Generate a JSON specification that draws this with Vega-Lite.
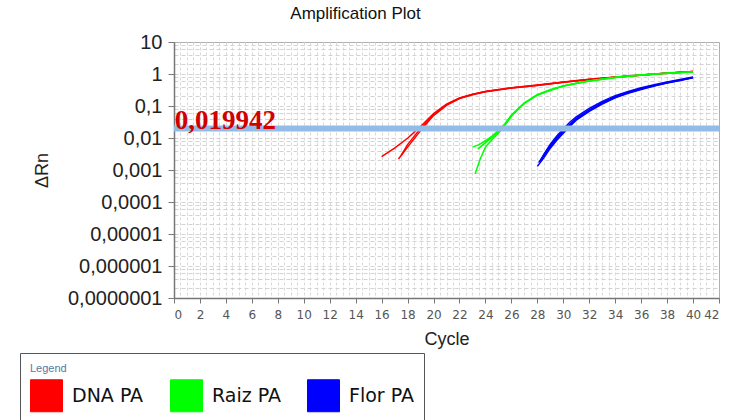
{
  "$schema": "https://vega.github.io/schema/vega-lite/v6.json",
  "autosize": "none",
  "width": 545,
  "height": 256,
  "padding": {"left": 174, "top": 42, "right": 11, "bottom": 122},
  "background": "white",
  "config": {
    "font": "Liberation Sans",
    "view": {"stroke": "#b0b0b0", "strokeWidth": 1}
  },
  "title": {
    "text": "Amplification Plot",
    "fontSize": 17,
    "fontWeight": "normal",
    "font": "Liberation Sans",
    "color": "#111",
    "anchor": "middle",
    "dx": -91,
    "offset": 9
  },
  "datasets": {
    "curves": [
      {"series": "DNA PA", "well": "r1", "cycle": 16.0, "rn": 0.0026},
      {"series": "DNA PA", "well": "r1", "cycle": 17.0, "rn": 0.0048},
      {"series": "DNA PA", "well": "r1", "cycle": 18.0, "rn": 0.0098},
      {"series": "DNA PA", "well": "r1", "cycle": 19.0, "rn": 0.023},
      {"series": "DNA PA", "well": "r1", "cycle": 20.0, "rn": 0.058},
      {"series": "DNA PA", "well": "r1", "cycle": 21.0, "rn": 0.115},
      {"series": "DNA PA", "well": "r1", "cycle": 22.0, "rn": 0.18},
      {"series": "DNA PA", "well": "r1", "cycle": 23.0, "rn": 0.235},
      {"series": "DNA PA", "well": "r1", "cycle": 24.0, "rn": 0.285},
      {"series": "DNA PA", "well": "r1", "cycle": 26.0, "rn": 0.37},
      {"series": "DNA PA", "well": "r1", "cycle": 28.0, "rn": 0.45},
      {"series": "DNA PA", "well": "r1", "cycle": 30.0, "rn": 0.56},
      {"series": "DNA PA", "well": "r1", "cycle": 32.0, "rn": 0.68},
      {"series": "DNA PA", "well": "r1", "cycle": 34.0, "rn": 0.8},
      {"series": "DNA PA", "well": "r1", "cycle": 36.0, "rn": 0.93},
      {"series": "DNA PA", "well": "r1", "cycle": 38.0, "rn": 1.07},
      {"series": "DNA PA", "well": "r1", "cycle": 40.0, "rn": 1.2},
      {"series": "DNA PA", "well": "r2", "cycle": 17.3, "rn": 0.0022},
      {"series": "DNA PA", "well": "r2", "cycle": 18.0, "rn": 0.0052},
      {"series": "DNA PA", "well": "r2", "cycle": 19.0, "rn": 0.017},
      {"series": "DNA PA", "well": "r2", "cycle": 20.0, "rn": 0.05},
      {"series": "DNA PA", "well": "r2", "cycle": 21.0, "rn": 0.105},
      {"series": "DNA PA", "well": "r2", "cycle": 22.0, "rn": 0.17},
      {"series": "DNA PA", "well": "r2", "cycle": 23.0, "rn": 0.225},
      {"series": "DNA PA", "well": "r2", "cycle": 24.0, "rn": 0.28},
      {"series": "DNA PA", "well": "r2", "cycle": 26.0, "rn": 0.365},
      {"series": "DNA PA", "well": "r2", "cycle": 28.0, "rn": 0.44},
      {"series": "DNA PA", "well": "r2", "cycle": 30.0, "rn": 0.55},
      {"series": "DNA PA", "well": "r2", "cycle": 32.0, "rn": 0.67},
      {"series": "DNA PA", "well": "r2", "cycle": 34.0, "rn": 0.79},
      {"series": "DNA PA", "well": "r2", "cycle": 36.0, "rn": 0.92},
      {"series": "DNA PA", "well": "r2", "cycle": 38.0, "rn": 1.06},
      {"series": "DNA PA", "well": "r2", "cycle": 40.0, "rn": 1.19},
      {"series": "DNA PA", "well": "r3", "cycle": 17.5, "rn": 0.0028},
      {"series": "DNA PA", "well": "r3", "cycle": 18.0, "rn": 0.0062},
      {"series": "DNA PA", "well": "r3", "cycle": 19.0, "rn": 0.02},
      {"series": "DNA PA", "well": "r3", "cycle": 20.0, "rn": 0.054},
      {"series": "DNA PA", "well": "r3", "cycle": 21.0, "rn": 0.11},
      {"series": "DNA PA", "well": "r3", "cycle": 22.0, "rn": 0.175},
      {"series": "DNA PA", "well": "r3", "cycle": 23.0, "rn": 0.23},
      {"series": "DNA PA", "well": "r3", "cycle": 24.0, "rn": 0.283},
      {"series": "DNA PA", "well": "r3", "cycle": 26.0, "rn": 0.368},
      {"series": "DNA PA", "well": "r3", "cycle": 28.0, "rn": 0.445},
      {"series": "DNA PA", "well": "r3", "cycle": 30.0, "rn": 0.555},
      {"series": "DNA PA", "well": "r3", "cycle": 32.0, "rn": 0.675},
      {"series": "DNA PA", "well": "r3", "cycle": 34.0, "rn": 0.795},
      {"series": "DNA PA", "well": "r3", "cycle": 36.0, "rn": 0.925},
      {"series": "DNA PA", "well": "r3", "cycle": 38.0, "rn": 1.065},
      {"series": "DNA PA", "well": "r3", "cycle": 40.0, "rn": 1.2},
      {"series": "Raiz PA", "well": "g1", "cycle": 23.2, "rn": 0.00075},
      {"series": "Raiz PA", "well": "g1", "cycle": 23.6, "rn": 0.0022},
      {"series": "Raiz PA", "well": "g1", "cycle": 24.0, "rn": 0.0052},
      {"series": "Raiz PA", "well": "g1", "cycle": 24.5, "rn": 0.0088},
      {"series": "Raiz PA", "well": "g1", "cycle": 25.0, "rn": 0.014},
      {"series": "Raiz PA", "well": "g1", "cycle": 25.5, "rn": 0.025},
      {"series": "Raiz PA", "well": "g1", "cycle": 26.0, "rn": 0.048},
      {"series": "Raiz PA", "well": "g1", "cycle": 26.5, "rn": 0.078},
      {"series": "Raiz PA", "well": "g1", "cycle": 27.0, "rn": 0.12},
      {"series": "Raiz PA", "well": "g1", "cycle": 28.0, "rn": 0.22},
      {"series": "Raiz PA", "well": "g1", "cycle": 29.0, "rn": 0.32},
      {"series": "Raiz PA", "well": "g1", "cycle": 30.0, "rn": 0.42},
      {"series": "Raiz PA", "well": "g1", "cycle": 31.0, "rn": 0.51},
      {"series": "Raiz PA", "well": "g1", "cycle": 32.0, "rn": 0.6},
      {"series": "Raiz PA", "well": "g1", "cycle": 34.0, "rn": 0.78},
      {"series": "Raiz PA", "well": "g1", "cycle": 36.0, "rn": 0.93},
      {"series": "Raiz PA", "well": "g1", "cycle": 38.0, "rn": 1.06},
      {"series": "Raiz PA", "well": "g1", "cycle": 40.0, "rn": 1.16},
      {"series": "Raiz PA", "well": "g2", "cycle": 23.0, "rn": 0.0052},
      {"series": "Raiz PA", "well": "g2", "cycle": 23.5, "rn": 0.0062},
      {"series": "Raiz PA", "well": "g2", "cycle": 24.0, "rn": 0.0082},
      {"series": "Raiz PA", "well": "g2", "cycle": 24.5, "rn": 0.0115},
      {"series": "Raiz PA", "well": "g2", "cycle": 25.0, "rn": 0.017},
      {"series": "Raiz PA", "well": "g2", "cycle": 25.5, "rn": 0.028},
      {"series": "Raiz PA", "well": "g2", "cycle": 26.0, "rn": 0.052},
      {"series": "Raiz PA", "well": "g2", "cycle": 26.5, "rn": 0.082},
      {"series": "Raiz PA", "well": "g2", "cycle": 27.0, "rn": 0.125},
      {"series": "Raiz PA", "well": "g2", "cycle": 28.0, "rn": 0.225},
      {"series": "Raiz PA", "well": "g2", "cycle": 29.0, "rn": 0.325},
      {"series": "Raiz PA", "well": "g2", "cycle": 30.0, "rn": 0.425},
      {"series": "Raiz PA", "well": "g2", "cycle": 31.0, "rn": 0.515},
      {"series": "Raiz PA", "well": "g2", "cycle": 32.0, "rn": 0.605},
      {"series": "Raiz PA", "well": "g2", "cycle": 34.0, "rn": 0.785},
      {"series": "Raiz PA", "well": "g2", "cycle": 36.0, "rn": 0.935},
      {"series": "Raiz PA", "well": "g2", "cycle": 38.0, "rn": 1.065},
      {"series": "Raiz PA", "well": "g2", "cycle": 40.0, "rn": 1.17},
      {"series": "Raiz PA", "well": "g3", "cycle": 23.4, "rn": 0.0045},
      {"series": "Raiz PA", "well": "g3", "cycle": 24.0, "rn": 0.0072},
      {"series": "Raiz PA", "well": "g3", "cycle": 24.5, "rn": 0.0105},
      {"series": "Raiz PA", "well": "g3", "cycle": 25.0, "rn": 0.0155},
      {"series": "Raiz PA", "well": "g3", "cycle": 25.5, "rn": 0.026},
      {"series": "Raiz PA", "well": "g3", "cycle": 26.0, "rn": 0.05},
      {"series": "Raiz PA", "well": "g3", "cycle": 27.0, "rn": 0.122},
      {"series": "Raiz PA", "well": "g3", "cycle": 28.0, "rn": 0.222},
      {"series": "Raiz PA", "well": "g3", "cycle": 30.0, "rn": 0.422},
      {"series": "Raiz PA", "well": "g3", "cycle": 32.0, "rn": 0.602},
      {"series": "Raiz PA", "well": "g3", "cycle": 34.0, "rn": 0.782},
      {"series": "Raiz PA", "well": "g3", "cycle": 36.0, "rn": 0.932},
      {"series": "Raiz PA", "well": "g3", "cycle": 38.0, "rn": 1.062},
      {"series": "Raiz PA", "well": "g3", "cycle": 40.0, "rn": 1.165},
      {"series": "Flor PA", "well": "b1", "cycle": 28.0, "rn": 0.0013},
      {"series": "Flor PA", "well": "b1", "cycle": 28.5, "rn": 0.0024},
      {"series": "Flor PA", "well": "b1", "cycle": 29.0, "rn": 0.0048},
      {"series": "Flor PA", "well": "b1", "cycle": 29.5, "rn": 0.0085},
      {"series": "Flor PA", "well": "b1", "cycle": 30.0, "rn": 0.014},
      {"series": "Flor PA", "well": "b1", "cycle": 30.5, "rn": 0.023},
      {"series": "Flor PA", "well": "b1", "cycle": 31.0, "rn": 0.036},
      {"series": "Flor PA", "well": "b1", "cycle": 32.0, "rn": 0.068},
      {"series": "Flor PA", "well": "b1", "cycle": 33.0, "rn": 0.115},
      {"series": "Flor PA", "well": "b1", "cycle": 34.0, "rn": 0.18},
      {"series": "Flor PA", "well": "b1", "cycle": 35.0, "rn": 0.25},
      {"series": "Flor PA", "well": "b1", "cycle": 36.0, "rn": 0.33},
      {"series": "Flor PA", "well": "b1", "cycle": 37.0, "rn": 0.42},
      {"series": "Flor PA", "well": "b1", "cycle": 38.0, "rn": 0.52},
      {"series": "Flor PA", "well": "b1", "cycle": 39.0, "rn": 0.63},
      {"series": "Flor PA", "well": "b1", "cycle": 40.0, "rn": 0.76},
      {"series": "Flor PA", "well": "b2", "cycle": 28.1, "rn": 0.0017},
      {"series": "Flor PA", "well": "b2", "cycle": 28.5, "rn": 0.0029},
      {"series": "Flor PA", "well": "b2", "cycle": 29.0, "rn": 0.0058},
      {"series": "Flor PA", "well": "b2", "cycle": 29.5, "rn": 0.0102},
      {"series": "Flor PA", "well": "b2", "cycle": 30.0, "rn": 0.017},
      {"series": "Flor PA", "well": "b2", "cycle": 30.5, "rn": 0.027},
      {"series": "Flor PA", "well": "b2", "cycle": 31.0, "rn": 0.041},
      {"series": "Flor PA", "well": "b2", "cycle": 32.0, "rn": 0.076},
      {"series": "Flor PA", "well": "b2", "cycle": 33.0, "rn": 0.127},
      {"series": "Flor PA", "well": "b2", "cycle": 34.0, "rn": 0.195},
      {"series": "Flor PA", "well": "b2", "cycle": 35.0, "rn": 0.27},
      {"series": "Flor PA", "well": "b2", "cycle": 36.0, "rn": 0.35},
      {"series": "Flor PA", "well": "b2", "cycle": 37.0, "rn": 0.44},
      {"series": "Flor PA", "well": "b2", "cycle": 38.0, "rn": 0.54},
      {"series": "Flor PA", "well": "b2", "cycle": 39.0, "rn": 0.65},
      {"series": "Flor PA", "well": "b2", "cycle": 40.0, "rn": 0.78},
      {"series": "Flor PA", "well": "b3", "cycle": 28.3, "rn": 0.0022},
      {"series": "Flor PA", "well": "b3", "cycle": 28.5, "rn": 0.0031},
      {"series": "Flor PA", "well": "b3", "cycle": 29.0, "rn": 0.0064},
      {"series": "Flor PA", "well": "b3", "cycle": 29.5, "rn": 0.0115},
      {"series": "Flor PA", "well": "b3", "cycle": 30.0, "rn": 0.019},
      {"series": "Flor PA", "well": "b3", "cycle": 30.5, "rn": 0.031},
      {"series": "Flor PA", "well": "b3", "cycle": 31.0, "rn": 0.046},
      {"series": "Flor PA", "well": "b3", "cycle": 32.0, "rn": 0.084},
      {"series": "Flor PA", "well": "b3", "cycle": 33.0, "rn": 0.138},
      {"series": "Flor PA", "well": "b3", "cycle": 34.0, "rn": 0.21},
      {"series": "Flor PA", "well": "b3", "cycle": 35.0, "rn": 0.285},
      {"series": "Flor PA", "well": "b3", "cycle": 36.0, "rn": 0.37},
      {"series": "Flor PA", "well": "b3", "cycle": 37.0, "rn": 0.46},
      {"series": "Flor PA", "well": "b3", "cycle": 38.0, "rn": 0.56},
      {"series": "Flor PA", "well": "b3", "cycle": 39.0, "rn": 0.67},
      {"series": "Flor PA", "well": "b3", "cycle": 40.0, "rn": 0.8},
      {"series": "Flor PA", "well": "b4", "cycle": 28.2, "rn": 0.0019},
      {"series": "Flor PA", "well": "b4", "cycle": 29.0, "rn": 0.0053},
      {"series": "Flor PA", "well": "b4", "cycle": 29.5, "rn": 0.0094},
      {"series": "Flor PA", "well": "b4", "cycle": 30.0, "rn": 0.0155},
      {"series": "Flor PA", "well": "b4", "cycle": 30.5, "rn": 0.025},
      {"series": "Flor PA", "well": "b4", "cycle": 31.0, "rn": 0.039},
      {"series": "Flor PA", "well": "b4", "cycle": 32.0, "rn": 0.072},
      {"series": "Flor PA", "well": "b4", "cycle": 33.0, "rn": 0.121},
      {"series": "Flor PA", "well": "b4", "cycle": 34.0, "rn": 0.188},
      {"series": "Flor PA", "well": "b4", "cycle": 35.0, "rn": 0.26},
      {"series": "Flor PA", "well": "b4", "cycle": 36.0, "rn": 0.34},
      {"series": "Flor PA", "well": "b4", "cycle": 37.0, "rn": 0.43},
      {"series": "Flor PA", "well": "b4", "cycle": 38.0, "rn": 0.53},
      {"series": "Flor PA", "well": "b4", "cycle": 39.0, "rn": 0.64},
      {"series": "Flor PA", "well": "b4", "cycle": 40.0, "rn": 0.77}
    ],
    "thr": [
      {"cycle": 0.05, "threshold": 0.019942, "label": "0,019942"}
    ]
  },
  "resolve": {"axis": {"x": "independent", "y": "independent"}},
  "layer": [
    {
      "data": {"name": "curves"},
      "mark": {"type": "line", "strokeWidth": 1.5, "clip": true},
      "encoding": {
        "x": {
          "field": "cycle", "type": "quantitative",
          "scale": {"domain": [0, 42], "nice": false, "zero": false},
          "axis": {
            "orient": "bottom", "labels": false, "ticks": false, "domain": false, "title": null,
            "values": [0.5,1,1.5,2,2.5,3,3.5,4,4.5,5,5.5,6,6.5,7,7.5,8,8.5,9,9.5,10,10.5,11,11.5,12,12.5,13,13.5,14,14.5,15,15.5,16,16.5,17,17.5,18,18.5,19,19.5,20,20.5,21,21.5,22,22.5,23,23.5,24,24.5,25,25.5,26,26.5,27,27.5,28,28.5,29,29.5,30,30.5,31,31.5,32,32.5,33,33.5,34,34.5,35,35.5,36,36.5,37,37.5,38,38.5,39,39.5,40,40.5,41,41.5],
            "grid": true, "gridColor": "#d9d9d9", "gridDash": [3, 2], "gridWidth": 1
          }
        },
        "y": {
          "field": "rn", "type": "quantitative",
          "scale": {"type": "log", "domain": [0.0000001, 10], "nice": false},
          "axis": {
            "orient": "left", "labels": false, "ticks": false, "domain": false, "title": null,
            "values": [0.0000002,0.0000004,0.0000006,0.0000008,0.000001,0.000002,0.000004,0.000006,0.000008,0.00001,0.00002,0.00004,0.00006,0.00008,0.0001,0.0002,0.0004,0.0006,0.0008,0.001,0.002,0.004,0.006,0.008,0.01,0.02,0.04,0.06,0.08,0.1,0.2,0.4,0.6,0.8,1,2,4,6,8],
            "grid": true, "gridColor": "#d3d3d3", "gridDash": [4, 3], "gridWidth": 1
          }
        },
        "color": {
          "field": "series", "type": "nominal",
          "scale": {"domain": ["DNA PA", "Raiz PA", "Flor PA"], "range": ["#ff0000", "#00ff00", "#0000ff"]},
          "legend": {
            "title": "Legend",
            "orient": "none",
            "legendX": -154,
            "legendY": 311,
            "direction": "horizontal",
            "symbolType": "square",
            "symbolSize": 1024,
            "symbolStrokeWidth": 1,
            "titleFontSize": 11,
            "titleFontWeight": "normal",
            "titleColor": "#5577aa",
            "titleFont": "Liberation Sans",
            "titlePadding": 5,
            "labelFont": "DejaVu Sans",
            "labelFontSize": 19,
            "labelColor": "#111",
            "labelOffset": 9,
            "columnPadding": 24,
            "strokeColor": "#555",
            "padding": 10,
            "encode": {
              "symbols": {
                "update": {
                  "fill": {"scale": "color", "field": "value"},
                  "fillOpacity": {"value": 1},
                  "stroke": {"value": "#444"}
                }
              }
            }
          }
        },
        "detail": {"field": "well", "type": "nominal"}
      }
    },
    {
      "data": {"name": "thr"},
      "mark": {"type": "rule", "color": "#92bbe8", "strokeWidth": 6},
      "encoding": {
        "y": {"field": "threshold", "type": "quantitative", "axis": null}
      }
    },
    {
      "data": {"name": "thr"},
      "mark": {
        "type": "text", "align": "left", "baseline": "alphabetic", "dy": 1,
        "font": "Liberation Serif", "fontWeight": "bold", "fontSize": 27, "color": "#d00000"
      },
      "encoding": {
        "x": {
          "field": "cycle", "type": "quantitative",
          "axis": {
            "orient": "bottom", "title": "Cycle", "titleFontSize": 18, "titleFontWeight": "normal",
            "titleColor": "#222", "titlePadding": 10,
            "values": [0,2,4,6,8,10,12,14,16,18,20,22,24,26,28,30,32,34,36,38,40,42],
            "labelFont": "DejaVu Sans", "labelFontSize": 12, "labelColor": "#555", "labelPadding": 6,
            "tickColor": "#777", "tickSize": 5, "domainColor": "#777", "domainWidth": 1.5,
            "grid": false
          }
        },
        "y": {
          "field": "threshold", "type": "quantitative",
          "axis": {
            "orient": "left", "title": "ΔRn", "titleFontSize": 18, "titleFontWeight": "normal",
            "titleColor": "#222", "titlePadding": 16,
            "values": [0.0000001,0.000001,0.00001,0.0001,0.001,0.01,0.1,1,10],
            "labelExpr": "datum.value >= 1 ? format(datum.value, 'd') : replace(format(datum.value, '.7~f'), '.', ',')",
            "labelFontSize": 20, "labelColor": "#222", "labelPadding": 6,
            "tickColor": "#777", "tickSize": 6, "domainColor": "#777", "domainWidth": 1.5,
            "grid": false
          }
        },
        "text": {"field": "label", "type": "nominal"}
      }
    }
  ]
}
